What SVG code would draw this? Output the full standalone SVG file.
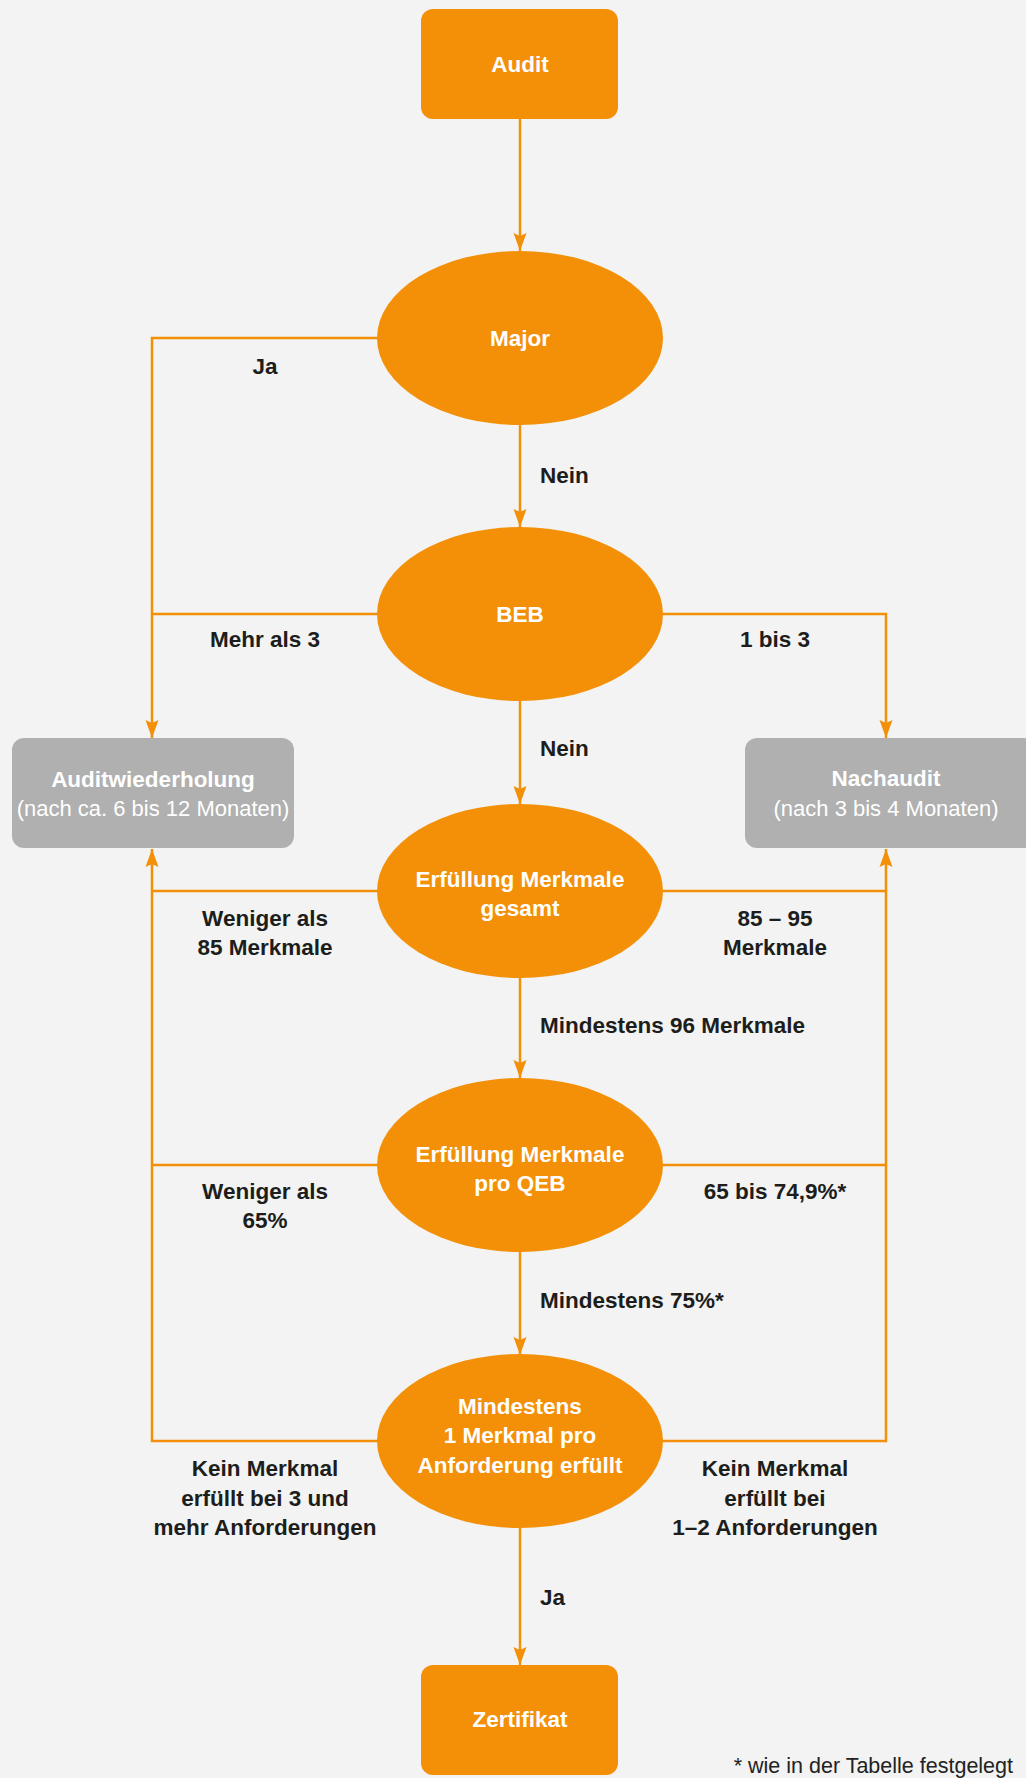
<svg xmlns="http://www.w3.org/2000/svg" width="1026" height="1778" viewBox="0 0 1026 1778">
<defs>
<style>
.bg{fill:#f2f3f2}
.box{fill:#f39008}
.ell{fill:#f39008}
.gbox{fill:#afb0af}
.wt{font-family:"Liberation Sans",Arial,sans-serif;font-size:22.5px;font-weight:bold;fill:#ffffff;text-anchor:middle}
.wr{font-family:"Liberation Sans",Arial,sans-serif;font-size:22px;font-weight:normal;fill:#ffffff;text-anchor:middle}
.lb{font-family:"Liberation Sans",Arial,sans-serif;font-size:22.5px;font-weight:bold;fill:#1d1d1b}
.lc{text-anchor:middle}
.fn{font-family:"Liberation Sans",Arial,sans-serif;font-size:21.5px;fill:#222222;text-anchor:end}
.con{fill:none;stroke:#f39008;stroke-width:2.5}
</style>
<marker id="arr" viewBox="-19 -7 20 14" refX="0" refY="0" markerWidth="20" markerHeight="14" markerUnits="userSpaceOnUse" orient="auto">
<path d="M-18,-6.5 L0,0 L-18,6.5 L-15,0 Z" fill="#f39008"/>
</marker>
</defs>
<rect class="bg" x="0" y="0" width="1026" height="1778"/>

<g id="connectors">
<line class="con" x1="520" y1="119" x2="520" y2="251" marker-end="url(#arr)"/>
<line class="con" x1="520" y1="424" x2="520" y2="527" marker-end="url(#arr)"/>
<line class="con" x1="520" y1="700" x2="520" y2="804" marker-end="url(#arr)"/>
<line class="con" x1="520" y1="977" x2="520" y2="1078" marker-end="url(#arr)"/>
<line class="con" x1="520" y1="1252" x2="520" y2="1355" marker-end="url(#arr)"/>
<line class="con" x1="520" y1="1528" x2="520" y2="1665" marker-end="url(#arr)"/>
<polyline class="con" points="378,338 152,338 152,738" marker-end="url(#arr)"/>
<line class="con" x1="378" y1="614" x2="152" y2="614"/>
<polyline class="con" points="662,614 886,614 886,738" marker-end="url(#arr)"/>
<polyline class="con" points="378,1441 152,1441 152,849" marker-end="url(#arr)"/>
<line class="con" x1="378" y1="891" x2="152" y2="891"/>
<line class="con" x1="378" y1="1165" x2="152" y2="1165"/>
<polyline class="con" points="662,1441 886,1441 886,849" marker-end="url(#arr)"/>
<line class="con" x1="662" y1="891" x2="886" y2="891"/>
<line class="con" x1="662" y1="1165" x2="886" y2="1165"/>
</g>

<g id="labels">
<text class="lb lc" x="265" y="374">Ja</text>
<text class="lb" x="540" y="483">Nein</text>
<text class="lb lc" x="265" y="647">Mehr als 3</text>
<text class="lb lc" x="775" y="647">1 bis 3</text>
<text class="lb" x="540" y="756">Nein</text>
<text class="lb lc" x="265" y="926">Weniger als</text>
<text class="lb lc" x="265" y="955">85 Merkmale</text>
<text class="lb lc" x="775" y="926">85 – 95</text>
<text class="lb lc" x="775" y="955">Merkmale</text>
<text class="lb" x="540" y="1033">Mindestens 96 Merkmale</text>
<text class="lb lc" x="265" y="1199">Weniger als</text>
<text class="lb lc" x="265" y="1228">65%</text>
<text class="lb lc" x="775" y="1199">65 bis 74,9%*</text>
<text class="lb" x="540" y="1308">Mindestens 75%*</text>
<text class="lb lc" x="265" y="1476">Kein Merkmal</text>
<text class="lb lc" x="265" y="1506">erfüllt bei 3 und</text>
<text class="lb lc" x="265" y="1535">mehr Anforderungen</text>
<text class="lb lc" x="775" y="1476">Kein Merkmal</text>
<text class="lb lc" x="775" y="1506">erfüllt bei</text>
<text class="lb lc" x="775" y="1535">1–2 Anforderungen</text>
<text class="lb" x="540" y="1605">Ja</text>
</g>

<g id="audit">
<rect class="box" x="421" y="9" width="197" height="110" rx="12"/>
<text class="wt" x="520" y="72">Audit</text>
</g>
<g id="major">
<ellipse class="ell" cx="520" cy="338" rx="143" ry="87"/>
<text class="wt" x="520" y="346">Major</text>
</g>
<g id="beb">
<ellipse class="ell" cx="520" cy="614" rx="143" ry="87"/>
<text class="wt" x="520" y="622">BEB</text>
</g>
<g id="auditwiederholung">
<rect class="gbox" x="12" y="738" width="282" height="110" rx="12"/>
<text class="wt" x="153" y="787">Auditwiederholung</text>
<text class="wr" x="153" y="816">(nach ca. 6 bis 12 Monaten)</text>
</g>
<g id="nachaudit">
<rect class="gbox" x="745" y="738" width="290" height="110" rx="12"/>
<text class="wt" x="886" y="786">Nachaudit</text>
<text class="wr" x="886" y="816">(nach 3 bis 4 Monaten)</text>
</g>
<g id="merkmale-gesamt">
<ellipse class="ell" cx="520" cy="891" rx="143" ry="87"/>
<text class="wt" x="520" y="887">Erfüllung Merkmale</text>
<text class="wt" x="520" y="916">gesamt</text>
</g>
<g id="merkmale-qeb">
<ellipse class="ell" cx="520" cy="1165" rx="143" ry="87"/>
<text class="wt" x="520" y="1162">Erfüllung Merkmale</text>
<text class="wt" x="520" y="1191">pro QEB</text>
</g>
<g id="mindestens">
<ellipse class="ell" cx="520" cy="1441" rx="143" ry="87"/>
<text class="wt" x="520" y="1414">Mindestens</text>
<text class="wt" x="520" y="1443">1 Merkmal pro</text>
<text class="wt" x="520" y="1473">Anforderung erfüllt</text>
</g>
<g id="zertifikat">
<rect class="box" x="421" y="1665" width="197" height="110" rx="12"/>
<text class="wt" x="520" y="1727">Zertifikat</text>
</g>
<g id="footnote">
<text class="fn" x="1013" y="1773">* wie in der Tabelle festgelegt</text>
</g>
</svg>
